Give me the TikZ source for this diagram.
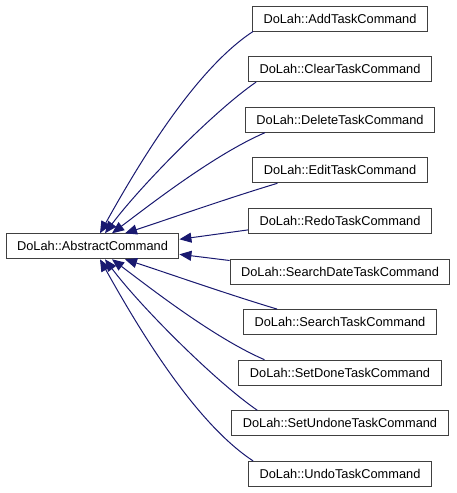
\documentclass[tikz,border=0pt]{standalone}
\usepackage{fontspec}
\setmainfont{Liberation Sans}
\usetikzlibrary{arrows.meta,calc}
\definecolor{edgeblue}{HTML}{191970}
\definecolor{boxline}{HTML}{404040}
\begin{document}
\begin{tikzpicture}[x=1pt,y=-1pt,
  cls/.style={draw=boxline,line width=1pt,fill=white,minimum height=25pt,
    inner xsep=11pt,inner ysep=0pt,font=\fontsize{12.8}{15}\selectfont,anchor=center},
  inh/.style={draw=edgeblue,line width=1pt,-{Triangle[length=12pt,width=10pt]}}]
\useasboundingbox (0,0) rectangle (456,493);
\node[cls] (abs) at (92.5,246.3) {DoLah::AbstractCommand};
\node[cls] (add) at (340,18.5) {DoLah::AddTaskCommand};
\node[cls] (clear) at (340,69.1) {DoLah::ClearTaskCommand};
\node[cls] (delete) at (340,119.7) {DoLah::DeleteTaskCommand};
\node[cls] (edit) at (340,170.3) {DoLah::EditTaskCommand};
\node[cls] (redo) at (340,220.9) {DoLah::RedoTaskCommand};
\node[cls] (sdate) at (340,271.5) {DoLah::SearchDateTaskCommand};
\node[cls] (search) at (340,322.1) {DoLah::SearchTaskCommand};
\node[cls] (setdone) at (340,372.7) {DoLah::SetDoneTaskCommand};
\node[cls] (setundone) at (340,423.3) {DoLah::SetUndoneTaskCommand};
\node[cls] (undo) at (340,473.9) {DoLah::UndoTaskCommand};
% upper edges
\draw[inh] ($(add.south west)+(1,0)$) .. controls +(-58,38) and +(39,-70) .. ($(abs.north)+(7.5,0)$);
\draw[inh] ($(clear.south west)+(8,0)$) .. controls +(-41,28) and +(36,-48) .. ($(abs.north)+(12.5,0)$);
\draw[inh] ($(delete.south west)+(20,0)$) .. controls +(-51,22) and +(36,-27) .. ($(abs.north)+(19.5,0)$);
\draw[inh] ($(edit.south west)+(25,0)$) .. controls +(-50,15) and +(40,-13) .. ($(abs.north)+(32.5,0)$);
\draw[inh] ($(redo.south west)+(0,-4)$) -- ($(abs.east)+(0,-7)$);
\draw[inh] ($(sdate.north west)+(0,2)$) -- ($(abs.east)+(0,8)$);
% lower edges
\draw[inh] ($(search.north west)+(34,0)$) .. controls +(-50,-15) and +(40,13) .. ($(abs.south)+(32.5,0)$);
\draw[inh] ($(setdone.north west)+(26,0)$) .. controls +(-51,-22) and +(36,27) .. ($(abs.south)+(19.5,0)$);
\draw[inh] ($(setundone.north west)+(26,0)$) .. controls +(-41,-28) and +(36,48) .. ($(abs.south)+(12.5,0)$);
\draw[inh] ($(undo.north west)+(5,0)$) .. controls +(-58,-38) and +(39,70) .. ($(abs.south)+(7.5,0)$);
\end{tikzpicture}
\end{document}
